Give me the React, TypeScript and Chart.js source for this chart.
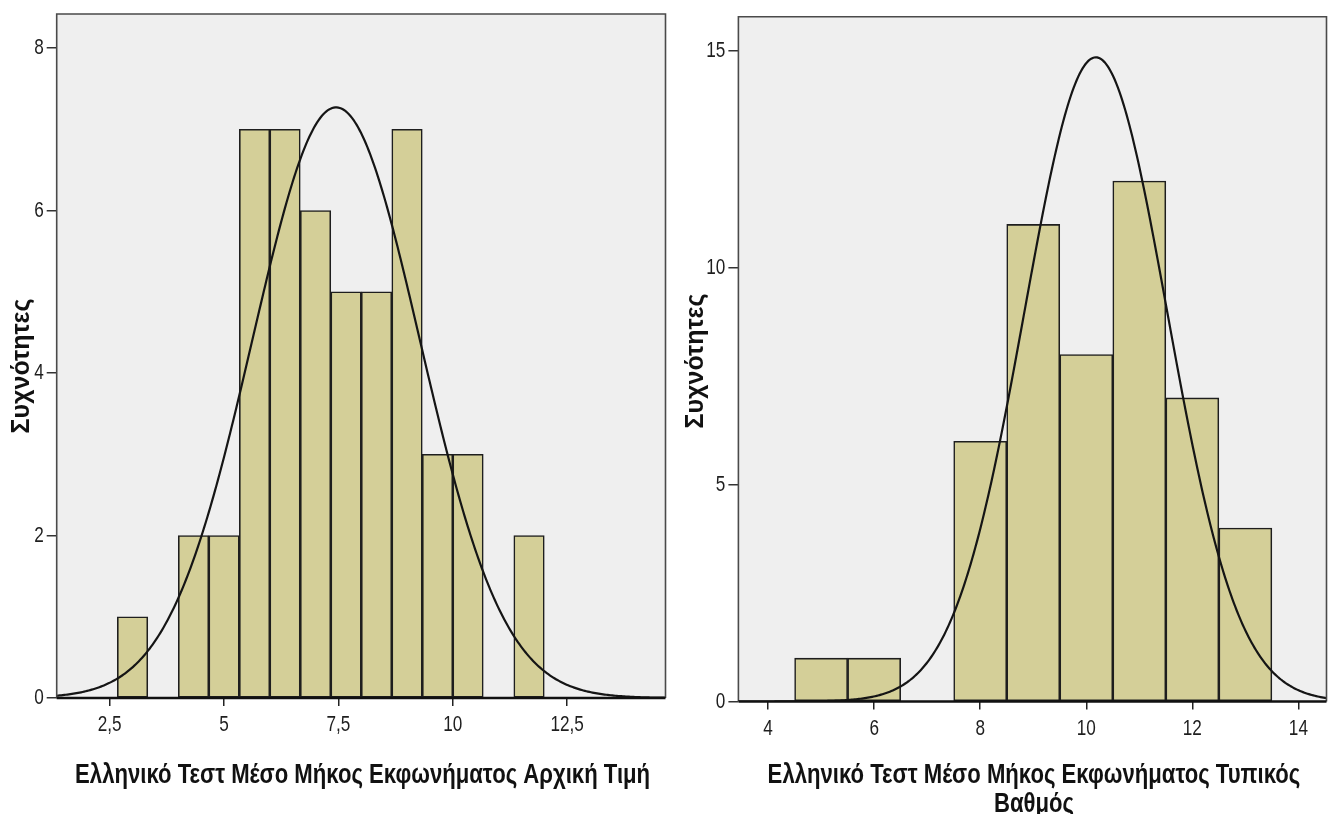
import React, { useEffect, useRef } from "react";
import { Chart, registerables } from "chart.js";

Chart.register(...registerables);

// ---- Ελληνικό Τεστ: Μέσο Μήκος Εκφωνήματος, Αρχική Τιμή ----
const initialBinCenters = [3, 3.667, 4.333, 5, 5.667, 6.333, 7, 7.667, 8.333, 9, 9.667, 10.333, 11, 11.667];
const initialCounts = [1, 0, 2, 2, 7, 7, 6, 5, 5, 7, 3, 3, 0, 2];
const initialBinWidth = 0.667;
const initialMean = 7.45;
const initialSd = 1.83;
const initialXTicks = [2.5, 5, 7.5, 10, 12.5];
const initialYTicks = [0, 2, 4, 6, 8];
const initialTitle = ["Ελληνικό Τεστ Μέσο Μήκος Εκφωνήματος Αρχική Τιμή"];

// ---- Ελληνικό Τεστ: Μέσο Μήκος Εκφωνήματος, Τυπικός Βαθμός ----
const standardBinCenters = [5, 6, 7, 8, 9, 10, 11, 12, 13];
const standardCounts = [1, 1, 0, 6, 11, 8, 12, 7, 4];
const standardBinWidth = 1;
const standardMean = 10.18;
const standardSd = 1.343;
const standardXTicks = [4, 6, 8, 10, 12, 14];
const standardYTicks = [0, 5, 10, 15];
const standardTitle = ["Ελληνικό Τεστ Μέσο Μήκος Εκφωνήματος Τυπικός", "Βαθμός"];

const yAxisTitle = "Συχνότητες";

const BAR_FILL = "#D4CF98";
const PLOT_BG = "#EFEFEF";
const SANS = "'Liberation Sans', Arial, sans-serif";

type Spec = {
  centers: number[];
  counts: number[];
  binWidth: number;
  mean: number;
  sd: number;
  xTicks: number[];
  yTicks: number[];
  xMin: number;
  xMax: number;
  yMax: number;
  canvasWidth: number;
  padTop: number;
  padRight: number;
  yAxisWidth: number;
  xAxisHeight: number;
  xLabelOffset: number;
  titleLines: string[];
  titleBaselines: number[];
  yTitleX: number;
  yTitleY: number;
};

// Fitted normal curve, scaled to counts per bin (N · width · pdf)
function normalCurve(s: Spec) {
  const n = s.counts.reduce((a, b) => a + b, 0);
  const pts: { x: number; y: number }[] = [];
  const steps = 400;
  for (let i = 0; i <= steps; i++) {
    const x = s.xMin + ((s.xMax - s.xMin) * i) / steps;
    const z = (x - s.mean) / s.sd;
    const y = (n * s.binWidth * Math.exp(-0.5 * z * z)) / (s.sd * Math.sqrt(2 * Math.PI));
    pts.push({ x, y });
  }
  return pts;
}

const fmt = (v: number) => String(v).replace(".", ",");

// Arial-metric face squeezed horizontally, giving a narrow grotesque
function narrowText(ctx: CanvasRenderingContext2D, text: string, x: number, y: number, squeeze: number) {
  ctx.save();
  ctx.translate(x, y);
  ctx.scale(squeeze, 1);
  ctx.fillText(text, 0, 0);
  ctx.restore();
}

function makeConfig(s: Spec): any {
  const framePlugin = {
    id: "plotFrame",
    beforeDraw(chart: any) {
      const { ctx, chartArea: a } = chart;
      ctx.save();
      ctx.fillStyle = PLOT_BG;
      ctx.fillRect(a.left, a.top, a.right - a.left, a.bottom - a.top);
      ctx.restore();
    },
    afterDatasetsDraw(chart: any) {
      const { ctx, chartArea: a } = chart;
      ctx.save();
      ctx.strokeStyle = "#4a4a4a";
      ctx.lineWidth = 1.6;
      ctx.beginPath();
      ctx.moveTo(a.left, a.bottom);
      ctx.lineTo(a.left, a.top);
      ctx.lineTo(a.right, a.top);
      ctx.lineTo(a.right, a.bottom);
      ctx.stroke();
      ctx.strokeStyle = "#111";
      ctx.lineWidth = 2.4;
      ctx.beginPath();
      ctx.moveTo(a.left, a.bottom);
      ctx.lineTo(a.right, a.bottom);
      ctx.stroke();
      ctx.restore();
    },
    afterDraw(chart: any) {
      const { ctx, chartArea: a } = chart;
      const xs = chart.scales.x;
      const ys = chart.scales.y;
      ctx.save();
      ctx.fillStyle = "#1e1e1e";

      // tick labels
      ctx.font = `22px ${SANS}`;
      ctx.textBaseline = "middle";
      ctx.textAlign = "right";
      ys.ticks.forEach((t: any) => narrowText(ctx, fmt(t.value), a.left - 13, ys.getPixelForValue(t.value), 0.78));
      ctx.textAlign = "center";
      xs.ticks.forEach((t: any) =>
        narrowText(ctx, fmt(t.value), xs.getPixelForValue(t.value), a.bottom + s.xLabelOffset, 0.78)
      );

      // x-axis title
      ctx.fillStyle = "#111";
      ctx.textBaseline = "alphabetic";
      ctx.font = `bold 28px ${SANS}`;
      const cx = (a.left + a.right) / 2 + 1.5;
      s.titleLines.forEach((line, i) => narrowText(ctx, line, cx, s.titleBaselines[i], 0.79));

      // y-axis title
      ctx.translate(s.yTitleX, s.yTitleY);
      ctx.rotate(-Math.PI / 2);
      ctx.textBaseline = "middle";
      ctx.font = `bold 25px ${SANS}`;
      ctx.fillText(yAxisTitle, 0, 0);
      ctx.restore();
    },
  };

  return {
    type: "bar",
    data: {
      datasets: [
        {
          type: "line",
          data: normalCurve(s),
          borderColor: "#151515",
          borderWidth: 2.2,
          pointRadius: 0,
          fill: false,
          tension: 0,
          order: 0,
        },
        {
          type: "bar",
          data: s.centers.map((x, i) => ({ x, y: s.counts[i] })),
          backgroundColor: BAR_FILL,
          borderColor: "#1e1e1e",
          borderWidth: 1.6,
          borderSkipped: false,
          barPercentage: 1,
          categoryPercentage: 1,
          order: 1,
        },
      ],
    },
    options: {
      animation: false,
      responsive: false,
      events: [],
      layout: { padding: { top: s.padTop, right: s.padRight, left: 0, bottom: 0 } },
      plugins: {
        legend: { display: false },
        tooltip: { enabled: false },
      },
      scales: {
        x: {
          type: "linear",
          min: s.xMin,
          max: s.xMax,
          offset: false,
          afterBuildTicks: (sc: any) => {
            sc.ticks = s.xTicks.map((value) => ({ value }));
          },
          afterFit: (sc: any) => {
            sc.height = s.xAxisHeight;
          },
          ticks: { display: false },
          grid: {
            offset: false,
            drawOnChartArea: false,
            drawTicks: true,
            tickLength: 8,
            color: "#222",
            lineWidth: 1.5,
          },
          border: { display: false },
        },
        y: {
          type: "linear",
          min: 0,
          max: s.yMax,
          afterBuildTicks: (sc: any) => {
            sc.ticks = s.yTicks.map((value) => ({ value }));
          },
          afterFit: (sc: any) => {
            sc.width = s.yAxisWidth;
          },
          ticks: { display: false },
          grid: {
            drawOnChartArea: false,
            drawTicks: true,
            tickLength: 10,
            color: "#333",
            lineWidth: 1.5,
          },
          border: { display: false },
        },
      },
    },
    plugins: [framePlugin],
  };
}

const leftSpec: Spec = {
  centers: initialBinCenters,
  counts: initialCounts,
  binWidth: initialBinWidth,
  mean: initialMean,
  sd: initialSd,
  xTicks: initialXTicks,
  yTicks: initialYTicks,
  xMin: 1.342,
  xMax: 14.65,
  yMax: 8.42,
  canvasWidth: 670,
  padTop: 14,
  padRight: 4.5,
  yAxisWidth: 56.7,
  xAxisHeight: 116,
  xLabelOffset: 27,
  titleLines: initialTitle,
  titleBaselines: [783],
  yTitleX: 22,
  yTitleY: 366,
};

const rightSpec: Spec = {
  centers: standardBinCenters,
  counts: standardCounts,
  binWidth: standardBinWidth,
  mean: standardMean,
  sd: standardSd,
  xTicks: standardXTicks,
  yTicks: standardYTicks,
  xMin: 3.44,
  xMax: 14.53,
  yMax: 15.79,
  canvasWidth: 662,
  padTop: 16.7,
  padRight: 5.5,
  yAxisWidth: 68.4,
  xAxisHeight: 112.5,
  xLabelOffset: 27,
  titleLines: standardTitle,
  titleBaselines: [783, 812],
  yTitleX: 26,
  yTitleY: 361,
};

function Histogram({ spec, left }: { spec: Spec; left: number }) {
  const ref = useRef<HTMLCanvasElement | null>(null);
  useEffect(() => {
    if (!ref.current) return;
    const chart = new Chart(ref.current, makeConfig(spec));
    return () => chart.destroy();
  }, [spec]);
  return (
    <canvas
      ref={ref}
      width={spec.canvasWidth}
      height={814}
      style={{ position: "absolute", left, top: 0, width: spec.canvasWidth, height: 814 }}
    />
  );
}

export default function App() {
  return (
    <div
      style={{
        position: "absolute",
        left: 0,
        top: 0,
        width: 1332,
        height: 814,
        background: "#ffffff",
        overflow: "hidden",
      }}
    >
      <Histogram spec={leftSpec} left={0} />
      <Histogram spec={rightSpec} left={670} />
    </div>
  );
}
